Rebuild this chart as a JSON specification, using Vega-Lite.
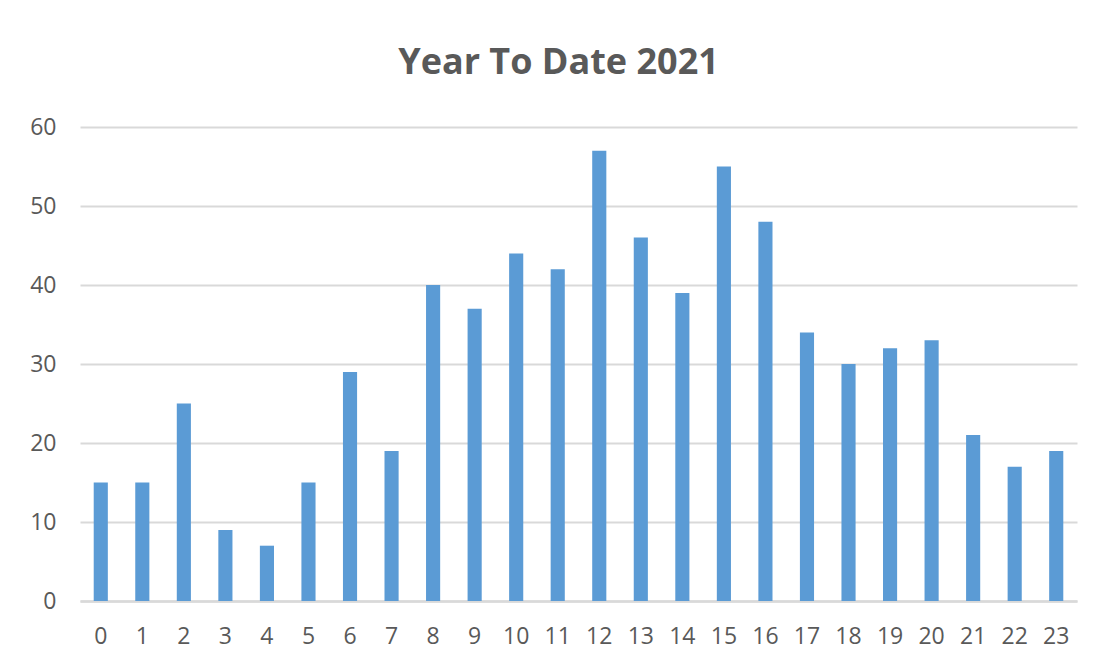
{
  "$schema": "https://vega.github.io/schema/vega-lite/v6.json",
  "autosize": "none",
  "width": 997,
  "height": 474,
  "padding": {"left": 80, "top": 127, "right": 19, "bottom": 68},
  "background": "white",
  "title": {
    "text": "Year To Date 2021",
    "font": "Open Sans",
    "fontSize": 36,
    "fontWeight": "bold",
    "color": "#595959",
    "offset": 34,
    "dx": -20
  },
  "data": {
    "values": [
      {"hour": "0", "count": 15},
      {"hour": "1", "count": 15},
      {"hour": "2", "count": 25},
      {"hour": "3", "count": 9},
      {"hour": "4", "count": 7},
      {"hour": "5", "count": 15},
      {"hour": "6", "count": 29},
      {"hour": "7", "count": 19},
      {"hour": "8", "count": 40},
      {"hour": "9", "count": 37},
      {"hour": "10", "count": 44},
      {"hour": "11", "count": 42},
      {"hour": "12", "count": 57},
      {"hour": "13", "count": 46},
      {"hour": "14", "count": 39},
      {"hour": "15", "count": 55},
      {"hour": "16", "count": 48},
      {"hour": "17", "count": 34},
      {"hour": "18", "count": 30},
      {"hour": "19", "count": 32},
      {"hour": "20", "count": 33},
      {"hour": "21", "count": 21},
      {"hour": "22", "count": 17},
      {"hour": "23", "count": 19}
    ]
  },
  "mark": {"type": "bar", "color": "#5b9bd5"},
  "encoding": {
    "x": {
      "field": "hour",
      "type": "ordinal",
      "sort": null,
      "scale": {"paddingInner": 0.66, "paddingOuter": 0.33},
      "axis": {
        "title": null,
        "labelAngle": 0,
        "labelFont": "Open Sans",
        "labelFontSize": 23,
        "labelColor": "#595959",
        "labelPadding": 24,
        "ticks": false,
        "domainColor": "#d9d9d9",
        "domainWidth": 2.5,
        "grid": false
      }
    },
    "y": {
      "field": "count",
      "type": "quantitative",
      "scale": {"domain": [0, 60], "nice": false},
      "axis": {
        "title": null,
        "values": [0, 10, 20, 30, 40, 50, 60],
        "labelFont": "Open Sans",
        "labelFontSize": 23,
        "labelColor": "#595959",
        "labelPadding": 24,
        "ticks": false,
        "domain": false,
        "gridColor": "#d9d9d9",
        "gridWidth": 2
      }
    }
  },
  "config": {"view": {"stroke": null}}
}
